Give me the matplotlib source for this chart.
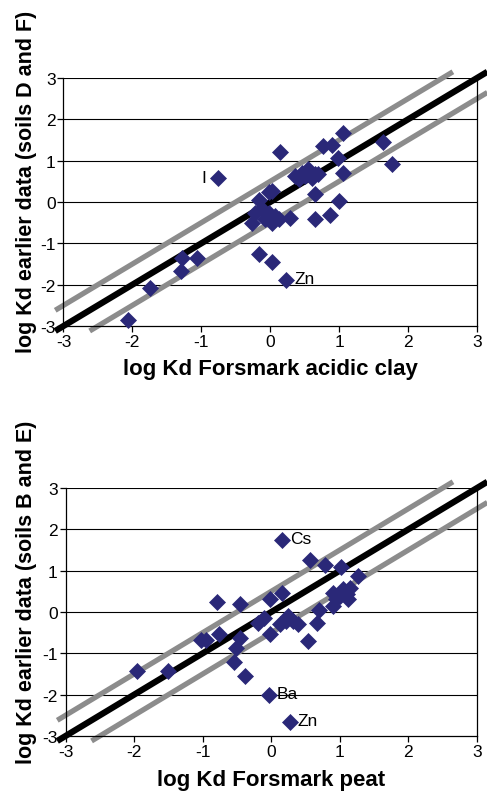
import matplotlib
matplotlib.use("Agg")
import matplotlib.pyplot as plt
import numpy as np

plt.rcParams['font.family'] = ['Liberation Sans', 'DejaVu Sans']

# Top chart: Forsmark acidic clay vs earlier data (soils D and F)
clay_x = [-2.06, -1.74, -1.28, -1.29, -1.07, -0.76, 0.14, -0.17, 0.02, 0.23,
          -0.17, -0.27, -0.07, 0.02, 0.12, 0.29, -0.12, -0.02, 0.02, -0.02, 0.07, -0.22,
          0.36, 0.46, 0.55, 0.65, 0.41, 0.51, 0.60, 0.70,
          0.65, 0.65, 0.87, 1.00, 1.06, 0.99, 0.77, 0.90, 1.06, 1.64, 1.76]
clay_y = [-2.85, -2.09, -1.36, -1.67, -1.36, 0.59, 1.21, -1.25, -1.45, -1.89,
          0.06, -0.50, -0.42, -0.50, -0.42, -0.38, -0.18, -0.26, 0.27, 0.23, -0.34, -0.26,
          0.63, 0.71, 0.79, 0.67, 0.55, 0.63, 0.59, 0.67,
          0.19, -0.42, -0.32, 0.02, 0.69, 1.07, 1.35, 1.37, 1.66, 1.45, 0.93]
clay_labels = [("I", -0.76, 0.59, "left"), ("Zn", 0.23, -1.89, "right")]

# Bottom chart: Forsmark peat vs earlier data (soils B and E)
peat_x = [-1.96, -1.50, -0.79, -0.46, -1.02, -0.95, -0.76, -0.46, -0.51, -0.55, -0.38,
          -0.04, 0.27, 0.15, 0.57, 0.79, 1.01, 1.27, 0.16, -0.02, -0.20, -0.10, -0.02,
          0.13, 0.24, 0.32, 0.39, 0.22, 0.54, 0.66, 0.70, 0.90, 0.90, 1.00, 1.10, 1.15,
          1.12, 1.05, 0.95]
peat_y = [-1.42, -1.42, 0.23, 0.20, -0.68, -0.68, -0.53, -0.62, -0.86, -1.20, -1.55,
          -2.01, -2.66, 1.74, 1.26, 1.13, 1.10, 0.86, 0.45, 0.31, -0.26, -0.14, -0.54,
          -0.30, -0.10, -0.22, -0.30, -0.22, -0.69, -0.26, 0.06, 0.15, 0.47, 0.39, 0.43, 0.59,
          0.31, 0.55, 0.31]
peat_labels = [("Cs", 0.15, 1.74, "right"), ("Ba", -0.04, -2.01, "right"),
               ("Zn", 0.27, -2.66, "right")]

ticks = [-3, -2, -1, 0, 1, 2, 3]
line_offsets = [0.5, -0.5]

W, H = 487, 803
fig = plt.figure(figsize=(W / 100, H / 100), dpi=100)


def make_axes(left, top, right, bottom):
    return fig.add_axes([left / W, 1 - bottom / H, (right - left) / W, (bottom - top) / H])


def draw(ax, xs, ys, labels, xlabel, ylabel, ylab_center, xlab_center):
    ax.set_xlim(-3, 3)
    ax.set_ylim(-3, 3)
    ax.set_xticks(ticks)
    ax.set_yticks(ticks)
    ax.set_xticklabels([str(t) for t in ticks])
    ax.set_yticklabels([str(t) for t in ticks])
    for t in ticks[1:]:
        ax.axhline(t, color='black', lw=0.8, zorder=1)
    for s in ['left', 'bottom', 'right']:
        ax.spines[s].set_color('black')
        ax.spines[s].set_linewidth(0.9)
    ax.spines['top'].set_visible(False)
    ax.tick_params(direction='out', length=4, width=0.9, labelsize=12.5, pad=1.5)
    # 1:1 line and +/- 0.5 lines
    lo, hi = -3.12, 3.15
    gx = np.array([lo, hi])
    for off in line_offsets:
        x0 = max(lo, lo - off)
        x1 = min(hi, hi - off)
        xx = np.array([x0, x1])
        ax.plot(xx, xx + off, color='#8c8c8c', lw=3.8, clip_on=False, zorder=2,
                solid_capstyle='butt')
    ax.plot(gx, gx, color='black', lw=4.5, clip_on=False, zorder=3, solid_capstyle='butt')
    ax.plot(xs, ys, 'D', color='#2a2878', ms=8, mec='#2a2878', mew=0.5, zorder=4,
            clip_on=False)
    for txt, x, y, side in labels:
        if side == 'left':
            ax.text(x - 0.17, y, txt, ha='right', va='center', fontsize=12.5)
        else:
            ax.text(x + 0.12, y + 0.03, txt, ha='left', va='center', fontsize=12.5)
    pos = ax.get_position()
    fig.text((pos.x0 + pos.x1) / 2, 1 - xlab_center / H, xlabel, ha='center', va='center',
             fontsize=16, fontweight='bold')
    fig.text(27 / W, 1 - ylab_center / H, ylabel, rotation=90, ha='center', va='center',
             fontsize=15.5, fontweight='bold')


ax1 = make_axes(63.5, 79, 477, 327)
draw(ax1, clay_x, clay_y, clay_labels, "log Kd Forsmark acidic clay",
     "log Kd earlier data (soils D and F)", 182, 369)

ax2 = make_axes(65.5, 489, 477, 737)
draw(ax2, peat_x, peat_y, peat_labels, "log Kd Forsmark peat",
     "log Kd earlier data (soils B and E)", 592, 781)

fig.savefig("out.png", dpi=100)
